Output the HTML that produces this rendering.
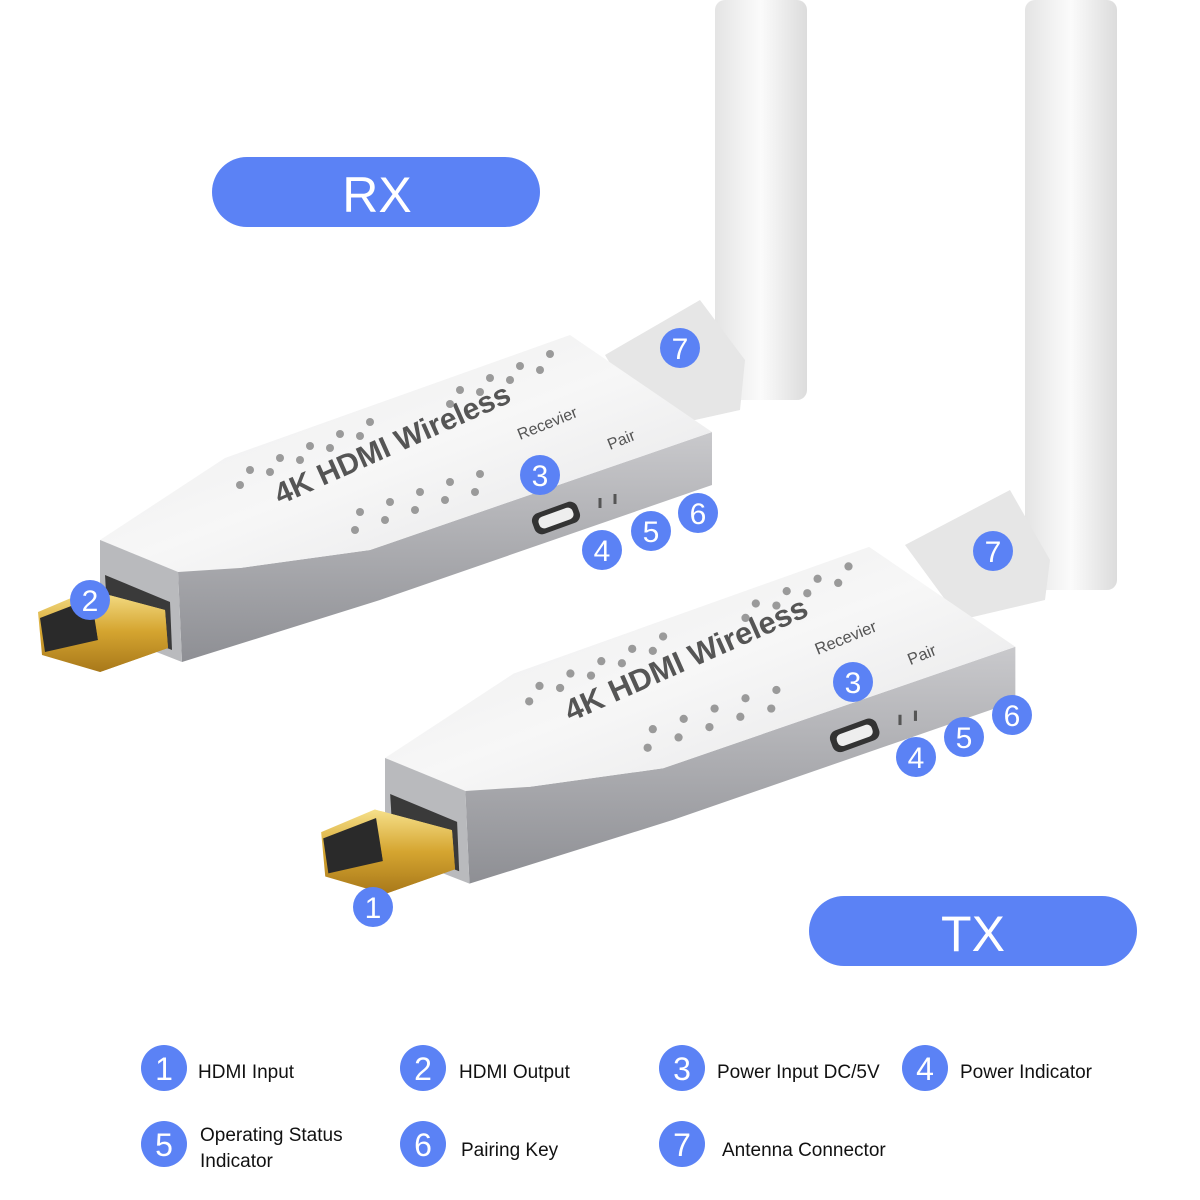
<!DOCTYPE html>
<html><head><meta charset="utf-8"><style>
html,body{margin:0;padding:0;background:#fff;}
svg{display:block}
text{font-family:"Liberation Sans",sans-serif}
</style></head><body>
<svg width="1200" height="1200" viewBox="0 0 1200 1200" xmlns="http://www.w3.org/2000/svg">
<defs>
<linearGradient id="ant" x1="0" x2="1"><stop offset="0" stop-color="#e4e4e4"/><stop offset="0.5" stop-color="#fbfbfb"/><stop offset="1" stop-color="#dcdcdc"/></linearGradient>
<linearGradient id="top" x1="0" y1="0" x2="1" y2="1"><stop offset="0" stop-color="#e9e9ea"/><stop offset="0.5" stop-color="#f7f7f7"/><stop offset="1" stop-color="#e2e2e4"/></linearGradient>
<linearGradient id="side" x1="0" y1="0" x2="0" y2="1"><stop offset="0" stop-color="#c9c9cc"/><stop offset="1" stop-color="#8e8f94"/></linearGradient>
<linearGradient id="gold" x1="0" y1="0" x2="0" y2="1"><stop offset="0" stop-color="#f6e08a"/><stop offset="0.5" stop-color="#d5a530"/><stop offset="1" stop-color="#a8781a"/></linearGradient>
<g id="dev">
  <!-- side -->
  <polygon points="0,0 78,32 82,122 280,60 612,-55 612,-108 270,10 140,28" fill="url(#side)"/>
  <!-- top -->
  <polygon points="0,0 125,-82 470,-205 612,-108 270,10 140,28 78,32" fill="url(#top)"/>
  <polygon points="0,0 78,32 82,122 0,90" fill="#b9babd"/>
  <polygon points="5,35 70,62 72,110 8,85" fill="#3a3a3a"/>
  <!-- plug -->
  <polygon points="-62,72 -10,50 65,70 68,108 0,132 -58,115" fill="url(#gold)"/>
  <polygon points="-60,78 -8,58 -2,100 -55,112" fill="#2a2a2a"/>
  <polygon points="-10,50 65,70 68,108 0,132 -2,100" fill="url(#gold)"/>
  <text x="0" y="0" transform="translate(180,-35) rotate(-24)" font-size="30" font-weight="bold" fill="#555">4K HDMI Wireless</text>
  <rect x="432" y="-33" width="48" height="22" rx="8" fill="#333" transform="rotate(-20 456 -22)"/>
  <rect x="438" y="-28" width="36" height="12" rx="5" fill="#eee" transform="rotate(-20 456 -22)"/>
  <line x1="500" y1="-42" x2="500" y2="-32" stroke="#555" stroke-width="3"/>
  <line x1="515" y1="-46" x2="515" y2="-36" stroke="#555" stroke-width="3"/>
  <g fill="#9a9a9a">
    <circle cx="260" cy="-28" r="4"/><circle cx="290" cy="-38" r="4"/><circle cx="320" cy="-48" r="4"/><circle cx="350" cy="-58" r="4"/><circle cx="380" cy="-66" r="4"/>
    <circle cx="255" cy="-10" r="4"/><circle cx="285" cy="-20" r="4"/><circle cx="315" cy="-30" r="4"/><circle cx="345" cy="-40" r="4"/><circle cx="375" cy="-48" r="4"/>
    <circle cx="140" cy="-55" r="4"/><circle cx="170" cy="-68" r="4"/><circle cx="200" cy="-80" r="4"/><circle cx="230" cy="-92" r="4"/><circle cx="260" cy="-104" r="4"/><circle cx="350" cy="-136" r="4"/><circle cx="380" cy="-148" r="4"/><circle cx="410" cy="-160" r="4"/><circle cx="440" cy="-170" r="4"/>
    <circle cx="150" cy="-70" r="4"/><circle cx="180" cy="-82" r="4"/><circle cx="210" cy="-94" r="4"/><circle cx="240" cy="-106" r="4"/><circle cx="270" cy="-118" r="4"/><circle cx="360" cy="-150" r="4"/><circle cx="390" cy="-162" r="4"/><circle cx="420" cy="-174" r="4"/><circle cx="450" cy="-186" r="4"/>
  </g>
  <text transform="translate(420,-100) rotate(-22)" font-size="16" fill="#555">Recevier</text>
  <text transform="translate(510,-90) rotate(-22)" font-size="16" fill="#555">Pair</text>
</g>
</defs>
<!-- antennas -->
<rect x="715" y="0" width="92" height="400" rx="10" fill="url(#ant)"/>
<polygon points="605,355 700,300 745,360 740,410 650,430" fill="#e6e6e6"/>
<rect x="1025" y="0" width="92" height="590" rx="10" fill="url(#ant)"/>
<polygon points="905,545 1010,490 1050,560 1045,600 960,620" fill="#e6e6e6"/>
<use href="#dev" transform="translate(100,540)"/>
<use href="#dev" transform="translate(385,758) scale(1.03)"/>
<!-- pills -->
<rect x="212" y="157" width="328" height="70" rx="35" fill="#5b82f5"/>
<text x="377" y="212" font-size="50" fill="#fff" text-anchor="middle">RX</text>
<rect x="809" y="896" width="328" height="70" rx="35" fill="#5b82f5"/>
<text x="973" y="951" font-size="50" fill="#fff" text-anchor="middle">TX</text>
<!-- badges -->
<g font-size="30" fill="#fff" text-anchor="middle">
<g fill="#5b82f5">
<circle cx="680" cy="348" r="20"/><circle cx="540" cy="475" r="20"/><circle cx="698" cy="513" r="20"/><circle cx="651" cy="531" r="20"/><circle cx="602" cy="550" r="20"/><circle cx="90" cy="600" r="20"/>
<circle cx="993" cy="551" r="20"/><circle cx="853" cy="682" r="20"/><circle cx="1012" cy="715" r="20"/><circle cx="964" cy="737" r="20"/><circle cx="916" cy="757" r="20"/><circle cx="373" cy="907" r="20"/>
</g>
<text x="680" y="359">7</text><text x="540" y="486">3</text><text x="698" y="524">6</text><text x="651" y="542">5</text><text x="602" y="561">4</text><text x="90" y="611">2</text>
<text x="993" y="562">7</text><text x="853" y="693">3</text><text x="1012" y="726">6</text><text x="964" y="748">5</text><text x="916" y="768">4</text><text x="373" y="918">1</text>
</g>
<!-- legend -->
<g fill="#5b82f5">
<circle cx="164" cy="1068" r="23"/><circle cx="423" cy="1068" r="23"/><circle cx="682" cy="1068" r="23"/><circle cx="925" cy="1068" r="23"/>
<circle cx="164" cy="1144" r="23"/><circle cx="423" cy="1144" r="23"/><circle cx="682" cy="1144" r="23"/>
</g>
<g font-size="32" fill="#fff" text-anchor="middle">
<text x="164" y="1080">1</text><text x="423" y="1080">2</text><text x="682" y="1080">3</text><text x="925" y="1080">4</text>
<text x="164" y="1156">5</text><text x="423" y="1156">6</text><text x="682" y="1156">7</text>
</g>
<g font-size="19" fill="#111">
<text x="198" y="1078">HDMI Input</text>
<text x="459" y="1078">HDMI Output</text>
<text x="717" y="1078">Power Input DC/5V</text>
<text x="960" y="1078">Power Indicator</text>
<text x="200" y="1141">Operating Status</text>
<text x="200" y="1167">Indicator</text>
<text x="461" y="1156">Pairing Key</text>
<text x="722" y="1156">Antenna Connector</text>
</g>
</svg>
</body></html>
